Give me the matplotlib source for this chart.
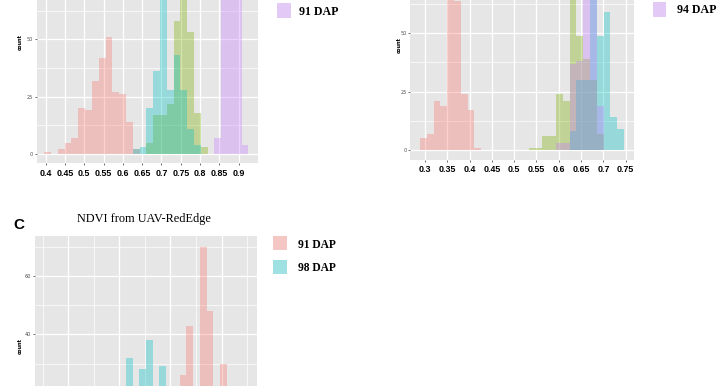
import matplotlib
matplotlib.use("Agg")
import matplotlib.pyplot as plt
import numpy as np
from matplotlib.patches import Rectangle

# ---------------- data ----------------
# Panel A (30 bins)
a_bin_start = 0.39637
a_bin_width = 0.01762
a_pink   = [1, 0, 2, 5, 7, 20, 19, 32, 42, 51, 27, 26, 14, 2, 0, 0, 0, 0, 0, 0, 0, 0, 0, 0, 0, 0, 0, 0, 0, 0]
a_olive  = [0, 0, 0, 0, 0, 0, 0, 0, 0, 0, 0, 0, 0, 0, 0, 5, 17, 17, 22, 58, 74, 53, 18, 3, 0, 0, 0, 0, 0, 0]
a_cyan   = [0, 0, 0, 0, 0, 0, 0, 0, 0, 0, 0, 0, 0, 2, 3, 20, 36, 76, 28, 43, 28, 11, 4, 0, 0, 0, 0, 0, 0, 0]
a_purple = [0, 0, 0, 0, 0, 0, 0, 0, 0, 0, 0, 0, 0, 0, 0, 0, 0, 0, 0, 0, 0, 0, 0, 0, 0, 7, 96, 88, 80, 4]
a_xticks = [0.4, 0.45, 0.5, 0.55, 0.6, 0.65, 0.7, 0.75, 0.8, 0.85, 0.9]
a_xlabels = ["0.4", "0.45", "0.5", "0.55", "0.6", "0.65", "0.7", "0.75", "0.8", "0.85", "0.9"]
a_legend = "91 DAP"

# Panel B (30 bins)
b_bin_start = 0.28879
b_bin_width = 0.015247
b_pink   = [5, 7, 21, 19, 89, 64, 24, 17, 1, 0, 0, 0, 0, 0, 0, 0, 0, 0, 0, 0, 0, 0, 0, 0, 0, 0, 0, 0, 0, 0]
b_olive  = [0, 0, 0, 0, 0, 0, 0, 0, 0, 0, 0, 0, 0, 0, 0, 0, 1, 1, 6, 6, 24, 21, 78, 49, 39, 30, 7, 0, 0, 0]
b_cyan   = [0, 0, 0, 0, 0, 0, 0, 0, 0, 0, 0, 0, 0, 0, 0, 0, 0, 0, 0, 0, 0, 0, 8, 30, 30, 72, 49, 59, 14, 9]
b_purple = [0, 0, 0, 0, 0, 0, 0, 0, 0, 0, 0, 0, 0, 0, 0, 0, 0, 0, 0, 0, 3, 3, 37, 38, 80, 75, 19, 0, 0, 0]
b_xticks = [0.3, 0.35, 0.4, 0.45, 0.5, 0.55, 0.6, 0.65, 0.7, 0.75]
b_xlabels = ["0.3", "0.35", "0.4", "0.45", "0.5", "0.55", "0.6", "0.65", "0.7", "0.75"]
b_legend = "94 DAP"

# Panel C (30 bins)
c_bin_start = 0.6773
c_bin_width = 0.006582
c_pink = [0, 0, 0, 0, 0, 0, 0, 0, 0, 0, 0, 0, 0, 0, 0, 0, 2, 4, 8, 14, 26, 43, 16, 70, 48, 18, 30, 12, 5, 2]
c_cyan = [1, 1, 2, 2, 3, 4, 5, 6, 8, 10, 12, 14, 32, 18, 28, 38, 15, 29, 9, 4, 0, 0, 0, 0, 0, 0, 0, 0, 0, 0]
c_legend = ["91 DAP", "98 DAP"]
c_title = "NDVI from UAV-RedEdge"

PINK, OLIVE, CYAN, PURPLE = "#F8766D", "#7CAE00", "#00BFC4", "#C77CFF"
ALPHA = 0.34
PANEL = "#E6E6E6"

W, H = 720, 386
fig = plt.figure(figsize=(W / 100, H / 100), dpi=100)
fig.patch.set_facecolor("white")


def rect(l, t, r, b):
    return [l / W, 1 - b / H, (r - l) / W, (b - t) / H]


NARROW = ["Liberation Sans Narrow", "Liberation Sans", "DejaVu Sans"]
SERIF = ["Liberation Serif", "DejaVu Serif"]


def style(ax, xlim, ylim, ymaj, ymin, xmaj, xmin=None, xlabels=None):
    ax.set_facecolor(PANEL)
    for s in ax.spines.values():
        s.set_visible(False)
    ax.set_xlim(*xlim)
    ax.set_ylim(*ylim)
    ax.set_yticks(ymaj)
    ax.set_yticks(ymin, minor=True)
    ax.set_yticklabels([str(v) for v in ymaj])
    ax.set_xticks(xmaj)
    if xmin is not None:
        ax.set_xticks(xmin, minor=True)
    if xlabels is not None:
        ax.set_xticklabels(xlabels)
    else:
        ax.set_xticklabels([])
    ax.grid(which="major", color="white", lw=0.9)
    ax.grid(which="minor", color="white", lw=0.5)
    ax.set_axisbelow(True)
    ax.tick_params(axis="y", which="major", length=1.5, width=0.5, color="#333333",
                   labelsize=3.6, labelcolor="#4D4D4D", pad=1.0)
    ax.tick_params(axis="x", which="major", length=1.5, width=0.5, color="#333333",
                   labelsize=6.4, labelcolor="black", pad=2.8)
    ax.tick_params(which="minor", length=0)
    for lab in ax.get_xticklabels():
        lab.set_fontfamily(NARROW)
        lab.set_fontweight("bold")


def draw_hist(ax, start, width, counts, color):
    n = len(counts)
    left = start + width * np.arange(n)
    ax.bar(left, counts, width=width, align="edge", color=color, alpha=ALPHA,
           linewidth=0, zorder=2)


# ---------- Panel A ----------
axA = fig.add_axes(rect(36.7, -78, 258, 163.5))
style(axA, (0.3767, 0.9500), (-(163.5 - 154) / 2.294, (154 + 78) / 2.294),
      [0, 25, 50], [12.5, 37.5, 62.5], a_xticks, xlabels=a_xlabels)
for cnt, col in [(a_pink, PINK), (a_olive, OLIVE), (a_cyan, CYAN), (a_purple, PURPLE)]:
    draw_hist(axA, a_bin_start, a_bin_width, cnt, col)

# ---------- Panel B ----------
axB = fig.add_axes(rect(410, -69, 634, 159.5))
style(axB, (0.26637, 0.76861), (-(159.5 - 150) / 2.334, (150 + 69) / 2.334),
      [0, 25, 50], [12.5, 37.5, 62.5], b_xticks, xlabels=b_xlabels)
for cnt, col in [(b_pink, PINK), (b_olive, OLIVE), (b_cyan, CYAN), (b_purple, PURPLE)]:
    draw_hist(axB, b_bin_start, b_bin_width, cnt, col)

# ---------- Panel C ----------
axC = fig.add_axes(rect(35, 236, 257, 461))
style(axC, (0.66742, 0.88464), (-(461 - 451) / 2.915, (451 - 236) / 2.915),
      [40, 60], [30, 50, 70], [0.7, 0.75, 0.8, 0.85],
      xmin=[0.675, 0.725, 0.775, 0.825, 0.875], xlabels=None)
axC.tick_params(axis="x", length=0)
for cnt, col in [(c_pink, PINK), (c_cyan, CYAN)]:
    draw_hist(axC, c_bin_start, c_bin_width, cnt, col)


def ftext(x, y, s, **kw):
    fig.text(x / W, 1 - y / H, s, **kw)


# y labels
for (x, y) in [(20.5, 42), (399, 45), (20.5, 346)]:
    ftext(x, y, "count", rotation=90, ha="center", va="center", fontsize=3.6,
          fontweight="bold", color="black", family=["DejaVu Sans"])


# legends
def key(l, t, r, b, color):
    fig.patches.append(Rectangle((l / W, 1 - b / H), (r - l) / W, (b - t) / H,
                                 transform=fig.transFigure, facecolor="#F2F2F2",
                                 edgecolor="none"))
    fig.patches.append(Rectangle((l / W, 1 - b / H), (r - l) / W, (b - t) / H,
                                 transform=fig.transFigure, facecolor=color,
                                 alpha=ALPHA, edgecolor="none"))


key(277, 3.5, 290.5, 18, PURPLE)
ftext(299, 14.8, a_legend, ha="left", va="baseline", fontsize=8.6,
      fontweight="bold", family=SERIF)
key(652.7, 2, 666, 16.5, PURPLE)
ftext(677, 13.1, b_legend, ha="left", va="baseline", fontsize=8.6,
      fontweight="bold", family=SERIF)
key(272.7, 236, 286.7, 250, PINK)
key(272.7, 260, 286.7, 274.3, CYAN)
ftext(298, 247.6, c_legend[0], ha="left", va="baseline", fontsize=8.3,
      fontweight="bold", family=SERIF)
ftext(298, 271.4, c_legend[1], ha="left", va="baseline", fontsize=8.3,
      fontweight="bold", family=SERIF)

# title and panel letter
ftext(143.8, 221.7, c_title, ha="center", va="baseline", fontsize=8.8, family=SERIF)
ftext(13.3, 229.3, "C", ha="left", va="baseline", fontsize=11, fontweight="bold",
      family=["Liberation Sans", "DejaVu Sans"])

fig.savefig("out.png", dpi=100, facecolor="white")
